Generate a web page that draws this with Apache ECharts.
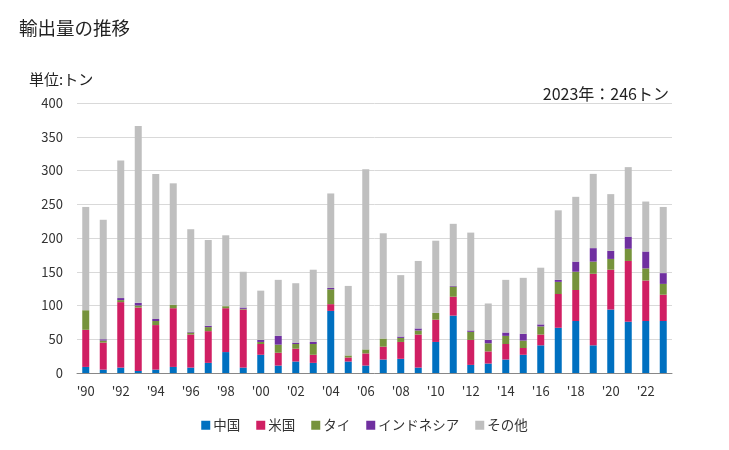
<!DOCTYPE html>
<html><head><meta charset="utf-8">
<script src="https://cdn.jsdelivr.net/npm/echarts@6/dist/echarts.min.js"></script>
<style>html,body{margin:0;padding:0;background:#fff}#c{width:729px;height:450px}</style>
</head><body><div id="c"></div>
<script>
const years = ["'90","'91","'92","'93","'94","'95","'96","'97","'98","'99","'00","'01","'02","'03","'04","'05","'06","'07","'08","'09","'10","'11","'12","'13","'14","'15","'16","'17","'18","'19","'20","'21","'22","'23"];
const china = [9,5,8,3,5,9,8,15,31,8,27,11,17,15,92,17,11,20,21,8,46,85,12,14,20,27,41,67,77,41,94,76,77,77];
const usa = [55,40,97,94,66,87,49,47,65,86,16,19,19,12,10,6,18,19,25,49,33,28,37,18,23,10,16,50,46,106,59,90,60,39];
const thai = [29,3,3,3,6,5,3,6,3,1,3,12,7,16,22,3,6,12,6,6,10,15,12,12,12,11,12,18,27,18,16,18,18,16];
const indonesia = [0,2,3,4,3,0,1,2,0,2,3,13,2,3,2,0,0,0,2,3,0,1,2,5,5,10,3,3,15,20,12,18,25,16];
const others = [153,177,204,262,215,180,152,127,105,53,73,83,88,107,140,103,267,156,91,100,107,92,145,54,78,83,84,103,96,110,84,103,74,98];
const seriesNames = ['中国','米国','タイ','インドネシア','その他'];
const colors = ['#0070c0','#d01f63','#76933c','#7030a0','#bfbfbf'];
const font = "'Noto Sans CJK JP','Noto Sans',sans-serif";
const chart = echarts.init(document.getElementById('c'));
const data = [china, usa, thai, indonesia, others];
chart.setOption({
  animation: false,
  textStyle: {fontFamily: font},
  title: [
    {text: '輸出量の推移', left: 14, top: 14, textStyle: {fontSize: 18.5, fontWeight: 'normal', color: '#222', fontFamily: font}},
    {text: '単位:トン', left: 24, top: 67, textStyle: {fontSize: 15, fontWeight: 'normal', color: '#222', fontFamily: font}},
    {text: '2023年：246トン', right: 55, top: 81, textStyle: {fontSize: 16, fontWeight: 'normal', color: '#222', fontFamily: font}}
  ],
  legend: {
    bottom: 13, left: 'center', itemWidth: 9, itemHeight: 9, itemGap: 16,
    icon: 'rect',
    textStyle: {fontSize: 13.5, color: '#333', fontFamily: font, padding: [0,0,0,-2]},
    data: seriesNames
  },
  grid: {left: 77, right: 57, top: 103, bottom: 77, containLabel: false},
  xAxis: {
    type: 'category', data: years,
    axisLine: {lineStyle: {color: '#888'}},
    axisTick: {show: false},
    axisLabel: {interval: 1, color: '#333', fontSize: 13, margin: 12}
  },
  yAxis: {
    type: 'value', min: 0, max: 400, interval: 50,
    axisLine: {show: false}, axisTick: {show: false},
    splitLine: {lineStyle: {color: '#d9d9d9', width: 1}},
    axisLabel: {color: '#333', fontSize: 13, margin: 14}
  },
  series: seriesNames.map((n, i) => ({
    name: n, type: 'bar', stack: 'total', data: data[i],
    barWidth: '40%', itemStyle: {color: colors[i]}
  }))
});
</script></body></html>
